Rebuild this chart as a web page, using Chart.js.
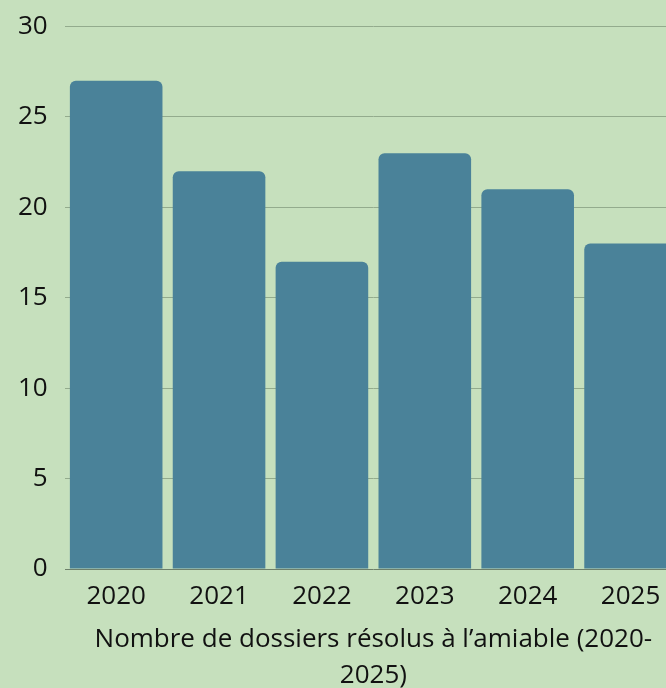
<!DOCTYPE html>
<html>
<head>
<meta charset="utf-8">
<script src="https://cdn.jsdelivr.net/npm/chart.js@4"></script>
<style>
  html, body { margin: 0; padding: 0; background: #c6e0bd; overflow: hidden; }
  #wrap { width: 690px; height: 700px; position: relative; margin-top: -6px; }
</style>
</head>
<body>
<div id="wrap"><canvas id="c"></canvas></div>
<script>
const categories = ["2020", "2021", "2022", "2023", "2024", "2025"];
const values = [27, 22, 17, 23, 21, 18];
const axisTitle = ["Nombre de dossiers résolus à l’amiable (2020-", "2025)"];

Chart.defaults.font.family = "'Open Sans', sans-serif";
Chart.defaults.color = "#111111";

new Chart(document.getElementById("c"), {
  type: "bar",
  data: {
    labels: categories,
    datasets: [{
      data: values,
      backgroundColor: "#4a8299",
      borderRadius: 6,
      barPercentage: 0.9,
      categoryPercentage: 1.0
    }]
  },
  options: {
    responsive: true,
    maintainAspectRatio: false,
    animation: false,
    layout: { padding: { left: 1, right: 8, top: 22, bottom: 0 } },
    plugins: { legend: { display: false }, tooltip: { enabled: false } },
    scales: {
      x: {
        grid: { display: false, drawTicks: false },
        border: { display: false },
        ticks: { font: { size: 26 }, padding: 12, color: "#111" },
        title: {
          display: true,
          text: axisTitle,
          font: { size: 26, lineHeight: 1.4 },
          color: "#111",
          padding: { top: -3, bottom: 0 }
        }
      },
      y: {
        min: 0, max: 30,
        ticks: { stepSize: 5, font: { size: 26 }, padding: 17, color: "#111" },
        grid: {
          drawTicks: false,
          color: (ctx) => ctx.tick && ctx.tick.value === 0 ? "#6e806a" : "#93ab8d",
          lineWidth: 1
        },
        border: { display: false }
      }
    }
  }
});
</script>
</body>
</html>
